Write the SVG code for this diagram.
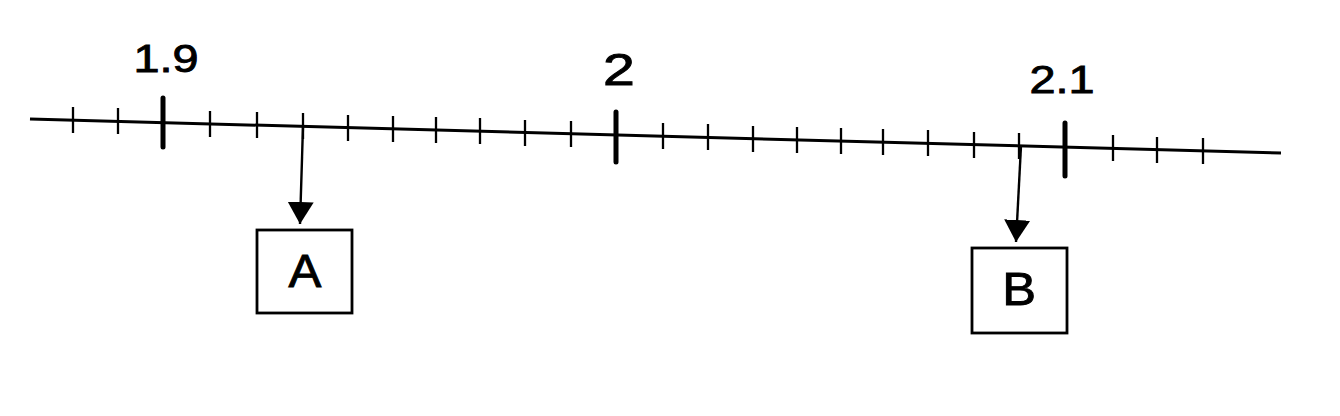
<svg xmlns="http://www.w3.org/2000/svg" width="1340" height="416" viewBox="0 0 1340 416">
  <defs>
    <style>
      .axis { stroke: #000; stroke-width: 3; fill: none; stroke-linecap: butt; }
      .minor { stroke: #000; stroke-width: 2.3; }
      .major { stroke: #000; stroke-width: 5; stroke-linecap: round; }
      .lbl { font-family: "Liberation Sans", Arial, sans-serif; fill: #000; stroke: #000; stroke-width: 0.9; text-anchor: middle; }
      .box { fill: #fff; stroke: #000; stroke-width: 2.8; }
      .conn { stroke: #000; stroke-width: 2.4; fill: none; }
    </style>
    <marker id="arrow" markerUnits="userSpaceOnUse" markerWidth="23" markerHeight="26" refX="22" refY="13" orient="auto">
      <path d="M0,0 L22,13 L0,26 z" fill="#000"/>
    </marker>
  </defs>
  <rect width="1340" height="416" fill="#fff"/>

  <g id="number-line">
    <line class="axis" x1="30" y1="119" x2="1281" y2="153"/>
    <g id="minor-ticks">
      <line class="minor" x1="73" y1="107" x2="73" y2="133"/>
      <line class="minor" x1="118" y1="108" x2="118" y2="134"/>
      <line class="minor" x1="210" y1="111" x2="210" y2="137"/>
      <line class="minor" x1="257" y1="112" x2="257" y2="138"/>
      <line class="minor" x1="303" y1="113" x2="303" y2="139"/>
      <line class="minor" x1="348" y1="115" x2="348" y2="141"/>
      <line class="minor" x1="393" y1="116" x2="393" y2="142"/>
      <line class="minor" x1="436" y1="117" x2="436" y2="143"/>
      <line class="minor" x1="480" y1="118" x2="480" y2="144"/>
      <line class="minor" x1="525" y1="120" x2="525" y2="146"/>
      <line class="minor" x1="571" y1="121" x2="571" y2="147"/>
      <line class="minor" x1="663" y1="123" x2="663" y2="149"/>
      <line class="minor" x1="708" y1="124" x2="708" y2="150"/>
      <line class="minor" x1="753" y1="126" x2="753" y2="152"/>
      <line class="minor" x1="797" y1="127" x2="797" y2="153"/>
      <line class="minor" x1="841" y1="128" x2="841" y2="154"/>
      <line class="minor" x1="883" y1="129" x2="883" y2="155"/>
      <line class="minor" x1="928" y1="130" x2="928" y2="156"/>
      <line class="minor" x1="974" y1="132" x2="974" y2="158"/>
      <line class="minor" x1="1019" y1="133" x2="1019" y2="159"/>
      <line class="minor" x1="1113" y1="135" x2="1113" y2="161"/>
      <line class="minor" x1="1157" y1="137" x2="1157" y2="163"/>
      <line class="minor" x1="1203" y1="138" x2="1203" y2="164"/>
    </g>
    <g id="major-ticks">
      <line class="major" x1="163" y1="98" x2="163" y2="147"/>
      <line class="major" x1="616" y1="112" x2="616" y2="162"/>
      <line class="major" x1="1065" y1="123" x2="1065" y2="176"/>
    </g>
    <g id="tick-labels">
      <text class="lbl" font-size="39" transform="translate(166,72) scale(1.2,1)">1.9</text>
      <text class="lbl" font-size="44" transform="translate(619,85) scale(1.3,1)">2</text>
      <text class="lbl" font-size="39" transform="translate(1062,93) scale(1.2,1)">2.1</text>
    </g>
  </g>

  <g id="connectors">
    <line class="conn" x1="303" y1="126" x2="300" y2="224" marker-end="url(#arrow)"/>
    <line class="conn" x1="1021" y1="146" x2="1016" y2="242" marker-end="url(#arrow)"/>
  </g>

  <g id="node-A">
    <rect class="box" x="257" y="230" width="95" height="83"/>
    <text class="lbl" font-size="46" transform="translate(305,287) scale(1.07,1)">A</text>
  </g>

  <g id="node-B">
    <rect class="box" x="972" y="248" width="95" height="85"/>
    <text class="lbl" font-size="46" transform="translate(1019,305) scale(1.1,1)">B</text>
  </g>
</svg>
